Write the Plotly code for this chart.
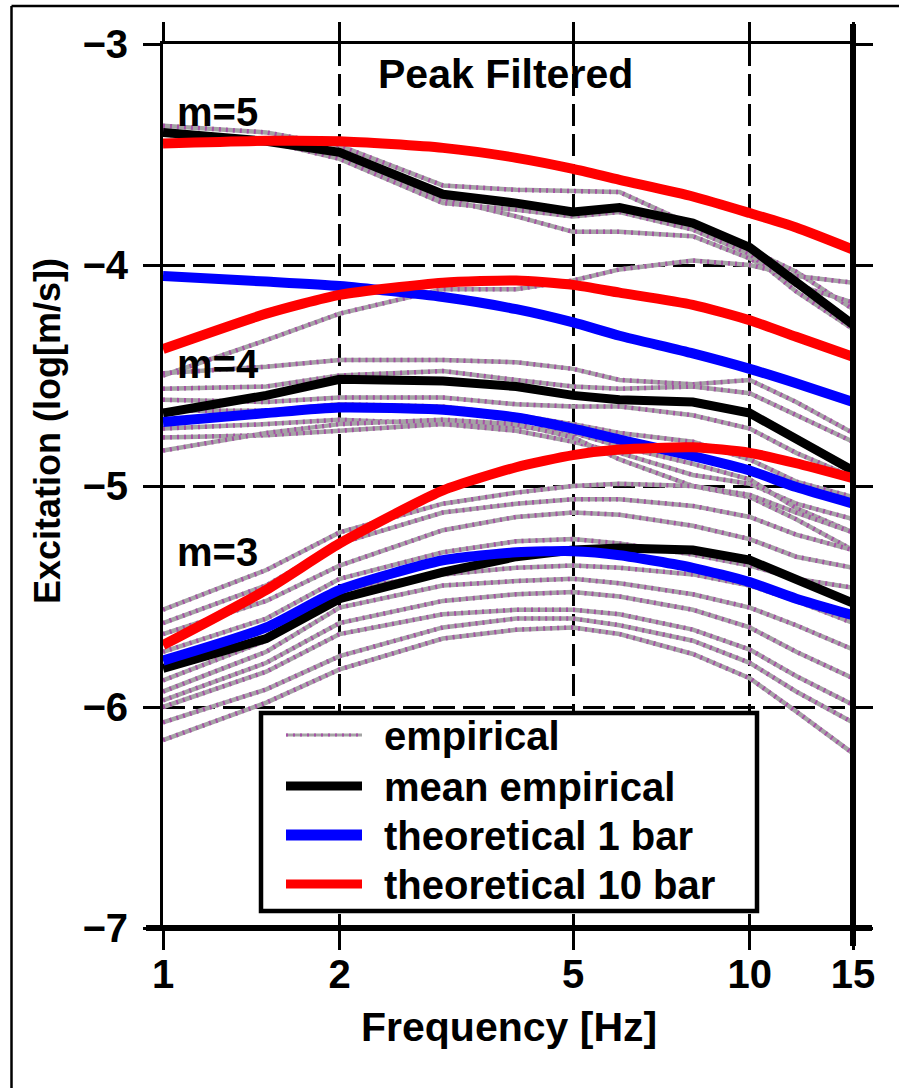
import plotly.graph_objects as go

# ---------------- data ----------------
freq = [1, 1.5, 2, 3, 4, 5, 6, 8, 10, 12, 15]

# empirical curves (grey)
emp_m5 = [
    [-3.37, -3.40, -3.46, -3.64, -3.66, -3.665, -3.67, -3.82, -3.93, -4.03, -4.20],
    [-3.41, -3.43, -3.50, -3.70, -3.78, -3.85, -3.85, -3.87, -3.97, -4.09, -4.17],
    [-3.39, -3.44, -3.52, -3.72, -3.75, -3.78, -3.76, -3.84, -3.95, -4.12, -4.29],
]
emp_m4 = [
    [-4.50, -4.34, -4.22, -4.11, -4.11, -4.07, -4.02, -3.98, -4.00, -4.05, -4.08],
    [-4.49, -4.46, -4.43, -4.43, -4.44, -4.47, -4.52, -4.54, -4.52, -4.62, -4.76],
    [-4.56, -4.55, -4.50, -4.48, -4.52, -4.55, -4.56, -4.55, -4.58, -4.68, -4.80],
    [-4.61, -4.62, -4.60, -4.60, -4.63, -4.64, -4.64, -4.68, -4.74, -4.85, -4.96],
    [-4.66, -4.66, -4.63, -4.64, -4.68, -4.72, -4.76, -4.80, -4.88, -4.98, -5.05],
    [-4.74, -4.72, -4.70, -4.72, -4.75, -4.80, -4.85, -4.95, -4.99, -5.08, -5.15],
    [-4.78, -4.77, -4.75, -4.72, -4.73, -4.76, -4.82, -4.90, -4.97, -5.10, -5.21],
    [-4.84, -4.76, -4.72, -4.70, -4.72, -4.78, -4.88, -5.00, -5.05, -5.15, -5.29],
]
emp_m3 = [
    [-5.56, -5.38, -5.21, -5.08, -5.03, -5.00, -4.99, -5.00, -5.04, -5.12, -5.21],
    [-5.62, -5.45, -5.26, -5.12, -5.08, -5.06, -5.06, -5.09, -5.14, -5.22, -5.29],
    [-5.67, -5.52, -5.36, -5.20, -5.14, -5.12, -5.13, -5.18, -5.24, -5.32, -5.37],
    [-5.75, -5.60, -5.42, -5.30, -5.25, -5.24, -5.26, -5.31, -5.36, -5.42, -5.46],
    [-5.88, -5.70, -5.47, -5.40, -5.37, -5.36, -5.37, -5.40, -5.45, -5.52, -5.62],
    [-5.93, -5.75, -5.55, -5.45, -5.43, -5.42, -5.44, -5.49, -5.55, -5.63, -5.74],
    [-5.97, -5.80, -5.62, -5.52, -5.49, -5.48, -5.50, -5.56, -5.64, -5.75, -5.87],
    [-6.00, -5.84, -5.67, -5.58, -5.56, -5.56, -5.58, -5.65, -5.74, -5.86, -5.99],
    [-6.07, -5.92, -5.77, -5.64, -5.60, -5.60, -5.63, -5.70, -5.80, -5.93, -6.07],
    [-6.15, -5.98, -5.83, -5.69, -5.65, -5.64, -5.67, -5.76, -5.87, -6.02, -6.21],
]

# mean empirical (black)
mean_m5 = [-3.40, -3.44, -3.49, -3.68, -3.72, -3.76, -3.74, -3.81, -3.92, -4.08, -4.27]
mean_m4 = [-4.67, -4.59, -4.517, -4.525, -4.55, -4.59, -4.61, -4.62, -4.67, -4.79, -4.93]
mean_m3 = [-5.825, -5.69, -5.51, -5.39, -5.32, -5.29, -5.28, -5.29, -5.335, -5.42, -5.53]

# theoretical 1 bar (blue)
th1_m5 = [-4.05, -4.075, -4.095, -4.145, -4.20, -4.26, -4.32, -4.40, -4.47, -4.535, -4.62]
th1_m4 = [-4.71, -4.67, -4.645, -4.655, -4.69, -4.74, -4.79, -4.865, -4.93, -5.005, -5.08]
th1_m3 = [-5.79, -5.64, -5.47, -5.336, -5.30, -5.295, -5.313, -5.37, -5.435, -5.51, -5.585]

# theoretical 10 bar (red)
th10_m5 = [-3.45, -3.438, -3.44, -3.47, -3.515, -3.565, -3.615, -3.69, -3.765, -3.83, -3.93]
th10_m4 = [-4.38, -4.22, -4.135, -4.08, -4.07, -4.09, -4.125, -4.18, -4.25, -4.325, -4.415]
th10_m3 = [-5.72, -5.47, -5.26, -5.02, -4.915, -4.86, -4.835, -4.825, -4.85, -4.897, -4.965]

x_ticks = [1, 2, 5, 10, 15]
x_ticktext = ["1", "2", "5", "10", "15"]
y_ticks = [-7, -6, -5, -4, -3]

legend_names = ["empirical", "mean empirical", "theoretical 1 bar", "theoretical 10 bar"]
labels_m = ["m=5", "m=4", "m=3"]

# ---------------- style ----------------
FONT = "Liberation Sans, Arial, Helvetica, sans-serif"
GREY = "#a4a4a4"
DOTS = "#a650a6"
BLACK = "#000000"
BLUE = "#0000ff"
RED = "#ff0000"

W, H = 899, 1088
ML, MR, MT, MB = 163, 46, 44, 160
PW = W - ML - MR
PH = H - MT - MB


def px(xp):
    return (xp - ML) / PW


def py(yp):
    return (H - MB - yp) / PH


fig = go.Figure()

for grp in (emp_m5, emp_m4, emp_m3):
    for ys in grp:
        fig.add_trace(go.Scatter(x=freq, y=ys, mode="lines",
                                 line=dict(color=GREY, width=4.5),
                                 showlegend=False, hoverinfo="skip"))
        fig.add_trace(go.Scatter(x=freq, y=ys, mode="lines",
                                 line=dict(color=DOTS, width=4.5, dash="2px,5px"),
                                 showlegend=False, hoverinfo="skip"))

for ys in (mean_m5, mean_m4, mean_m3):
    fig.add_trace(go.Scatter(x=freq, y=ys, mode="lines",
                             line=dict(color=BLACK, width=9),
                             showlegend=False))
for ys in (th1_m5, th1_m4, th1_m3):
    fig.add_trace(go.Scatter(x=freq, y=ys, mode="lines",
                             line=dict(color=BLUE, width=10, shape="spline", smoothing=0.6),
                             showlegend=False))
for ys in (th10_m5, th10_m4, th10_m3):
    fig.add_trace(go.Scatter(x=freq, y=ys, mode="lines",
                             line=dict(color=RED, width=10, shape="spline", smoothing=0.6),
                             showlegend=False))

tickfont = dict(family=FONT, size=40, color="black", weight="bold")

fig.update_xaxes(type="log", range=[0, 1.1760913], tickvals=x_ticks, ticktext=x_ticktext,
                 showline=True, linewidth=3, linecolor="black", mirror="ticks",
                 ticks="outside", ticklen=19, tickwidth=3, tickcolor="black",
                 showgrid=True, gridcolor="black", gridwidth=3, griddash="22px,8px",
                 zeroline=False, tickfont=tickfont, ticklabelstandoff=-10)
fig.update_yaxes(range=[-7, -3], tickvals=y_ticks,
                 showline=True, linewidth=3, linecolor="black", mirror="ticks",
                 ticks="outside", ticklen=17, tickwidth=3, tickcolor="black",
                 showgrid=True, gridcolor="black", gridwidth=3, griddash="22px,8px",
                 zeroline=False, tickfont=tickfont, ticklabelstandoff=7)

shapes = []
# thick bottom and right axis
shapes.append(dict(type="line", xref="paper", yref="paper", x0=px(146), x1=px(872), y0=0, y1=0,
                   line=dict(color="black", width=6), layer="above"))
shapes.append(dict(type="line", xref="paper", yref="paper", x0=1, x1=1, y0=py(946), y1=py(24),
                   line=dict(color="black", width=6), layer="above"))
# outer frame (left and top)
shapes.append(dict(type="line", xref="paper", yref="paper", x0=px(11.5), x1=px(11.5), y0=py(6), y1=py(1100),
                   line=dict(color="black", width=2.5)))
shapes.append(dict(type="line", xref="paper", yref="paper", x0=px(11.5), x1=px(910), y0=py(6), y1=py(6),
                   line=dict(color="black", width=2.5)))
# legend box
shapes.append(dict(type="rect", xref="paper", yref="paper", x0=px(261), x1=px(757), y0=py(911), y1=py(713),
                   fillcolor="white", line=dict(color="black", width=4.5), layer="above"))
leg_rows = [735, 786, 835, 884]
leg_styles = [(GREY, 3, None), (BLACK, 9, None), (BLUE, 11, None), (RED, 9, None)]
for yr, (c, w, d) in zip(leg_rows, leg_styles):
    shapes.append(dict(type="line", xref="paper", yref="paper", x0=px(286), x1=px(362), y0=py(yr), y1=py(yr),
                       line=dict(color=c, width=w), layer="above"))
shapes.append(dict(type="line", xref="paper", yref="paper", x0=px(286), x1=px(362), y0=py(735), y1=py(735),
                   line=dict(color=DOTS, width=3, dash="2px,5px"), layer="above"))

annotations = []
for yr, name in zip(leg_rows, legend_names):
    annotations.append(dict(xref="paper", yref="paper", x=px(382), y=py(yr + 1), text=name,
                            xanchor="left", yanchor="middle", showarrow=False,
                            font=dict(family=FONT, size=40, color="black", weight="bold")))
for (yc, lab) in zip([110, 362, 550], labels_m):
    annotations.append(dict(xref="paper", yref="paper", x=px(175), y=py(yc + 2), text=lab,
                            xanchor="left", yanchor="middle", showarrow=False,
                            font=dict(family=FONT, size=40, color="black", weight="bold")))
annotations.append(dict(xref="paper", yref="paper", x=px(505), y=py(74), text="Peak Filtered",
                        xanchor="center", yanchor="middle", showarrow=False,
                        font=dict(family=FONT, size=41, color="black", weight="bold")))
annotations.append(dict(xref="paper", yref="paper", x=px(509), y=py(1027), text="Frequency [Hz]",
                        xanchor="center", yanchor="middle", showarrow=False,
                        font=dict(family=FONT, size=41, color="black", weight="bold")))
annotations.append(dict(xref="paper", yref="paper", x=px(47), y=py(431), text="Excitation (log[m/s])",
                        xanchor="center", yanchor="middle", showarrow=False, textangle=-90,
                        font=dict(family=FONT, size=36, color="black", weight="bold")))

fig.update_layout(width=W, height=H, margin=dict(l=ML, r=MR, t=MT, b=MB),
                  paper_bgcolor="white", plot_bgcolor="white",
                  showlegend=False, shapes=shapes, annotations=annotations)

fig.write_html("out.html")
